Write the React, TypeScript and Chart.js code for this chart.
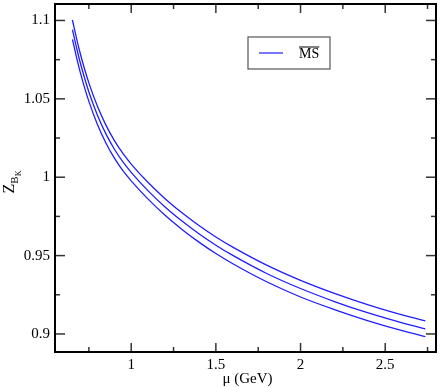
import React, { useEffect, useRef } from "react";
import { Chart, registerables } from "chart.js";

Chart.register(...registerables);

// ---- data ----
const muValues = [0.653, 0.68, 0.7, 0.725, 0.75, 0.8, 0.85, 0.9, 0.95, 1.0, 1.1, 1.2, 1.3, 1.4, 1.5, 1.6, 1.8, 2.0, 2.2, 2.4, 2.6, 2.737];
const zUpper = [1.1003, 1.0873, 1.0786, 1.0689, 1.0602, 1.0454, 1.0334, 1.0235, 1.0153, 1.0084, 0.9966, 0.9863, 0.9773, 0.9692, 0.9619, 0.9554, 0.9439, 0.9342, 0.9259, 0.9186, 0.9122, 0.9083];
const zMiddle = [1.0942, 1.0813, 1.0727, 1.0631, 1.0544, 1.0397, 1.0278, 1.018, 1.0099, 1.0031, 0.9913, 0.981, 0.972, 0.9639, 0.9566, 0.9501, 0.9386, 0.929, 0.9207, 0.9134, 0.9071, 0.9032];
const zLower = [1.088, 1.0752, 1.0666, 1.057, 1.0484, 1.0338, 1.022, 1.0123, 1.0043, 0.9977, 0.986, 0.9757, 0.9667, 0.9586, 0.9513, 0.9448, 0.9333, 0.9236, 0.9156, 0.9084, 0.9021, 0.8983];

const xMajorTicks = [1, 1.5, 2, 2.5];
const xMinorTicks = [0.75, 1.25, 1.75, 2.25, 2.75];
const yMajorTicks = [0.9, 0.95, 1, 1.05, 1.1];
const yMinorTicks = [0.925, 0.975, 1.025, 1.075];
const legendLabel = "MS";
const xTitle = "μ (GeV)";

const SERIF = "'Liberation Serif', 'Times New Roman', serif";
const LINE_COLOR = "rgb(30,30,255)";

Chart.defaults.font.family = SERIF;
Chart.defaults.font.size = 15;
Chart.defaults.color = "#000";

const decorPlugin = {
  id: "decor",
  afterDraw(chart: any) {
    const { ctx, chartArea: a, scales } = chart;
    const xs = scales.x;
    const ys = scales.y;
    ctx.save();
    const seg = (x1: number, y1: number, x2: number, y2: number) => {
      ctx.beginPath();
      ctx.moveTo(x1, y1);
      ctx.lineTo(x2, y2);
      ctx.stroke();
    };
    ctx.strokeStyle = "#333";
    ctx.lineWidth = 1.5;
    const xt = (vals: number[], len: number) => {
      for (const v of vals) {
        const p = xs.getPixelForValue(v);
        seg(p, a.bottom, p, a.bottom - len);
        seg(p, a.top, p, a.top + len);
      }
    };
    const yt = (vals: number[], len: number) => {
      for (const v of vals) {
        const p = ys.getPixelForValue(v);
        seg(a.left, p, a.left + len, p);
        seg(a.right, p, a.right - len, p);
      }
    };
    xt(xMajorTicks, 9);
    xt(xMinorTicks, 5);
    yt(yMajorTicks, 10);
    yt(yMinorTicks, 5);

    // frame
    ctx.strokeStyle = "#000";
    ctx.lineWidth = 2;
    ctx.strokeRect(a.left, a.top, a.right - a.left, a.bottom - a.top);

    // legend
    const lx = a.left + 193;
    const ly = a.top + 33;
    ctx.strokeStyle = "#555";
    ctx.lineWidth = 1.2;
    ctx.strokeRect(lx, ly, 82, 32);
    ctx.strokeStyle = LINE_COLOR;
    ctx.lineWidth = 1.2;
    seg(lx + 11, ly + 16, lx + 35, ly + 16);
    ctx.fillStyle = "#000";
    ctx.font = `14px ${SERIF}`;
    ctx.textBaseline = "alphabetic";
    ctx.textAlign = "left";
    const tx = lx + 51;
    const tb = ly + 21;
    ctx.fillText(legendLabel, tx, tb);
    const tw = ctx.measureText(legendLabel).width;
    ctx.strokeStyle = "#000";
    ctx.lineWidth = 1;
    seg(tx, tb - 11, tx + tw, tb - 11);

    // x title
    ctx.font = `15px ${SERIF}`;
    ctx.textAlign = "center";
    ctx.textBaseline = "middle";
    ctx.fillText(xTitle, (a.left + a.right) / 2 + 2, 379);

    // y title Z_{B_K}
    ctx.translate(14, 182);
    ctx.rotate(-Math.PI / 2);
    ctx.textAlign = "left";
    ctx.textBaseline = "alphabetic";
    ctx.font = `16px ${SERIF}`;
    const zw = ctx.measureText("Z").width;
    ctx.font = `11px ${SERIF}`;
    const bw = ctx.measureText("B").width;
    ctx.font = `8px ${SERIF}`;
    const kw = ctx.measureText("K").width;
    const total = zw + bw + kw;
    let cx = -total / 2;
    ctx.font = `16px ${SERIF}`;
    ctx.fillText("Z", cx, 0);
    cx += zw;
    ctx.font = `11px ${SERIF}`;
    ctx.fillText("B", cx, 4);
    cx += bw;
    ctx.font = `8px ${SERIF}`;
    ctx.fillText("K", cx, 7);
    ctx.restore();
  },
};

const makeSeries = (vals: number[]) => muValues.map((m, i) => ({ x: m, y: vals[i] }));

export default function App() {
  const ref = useRef<HTMLCanvasElement | null>(null);
  useEffect(() => {
    if (!ref.current) return;
    const ds = (vals: number[], label: string) => ({
      label,
      data: makeSeries(vals),
      borderColor: LINE_COLOR,
      borderWidth: 1.3,
      pointRadius: 0,
      fill: false,
      cubicInterpolationMode: "monotone" as const,
    });
    const chart = new Chart(ref.current, {
      type: "line",
      data: {
        datasets: [ds(zUpper, legendLabel), ds(zMiddle, legendLabel), ds(zLower, legendLabel)],
      },
      options: {
        responsive: false,
        animation: false,
        layout: { padding: { left: 0, right: 9, top: 4, bottom: 0 } },
        plugins: { legend: { display: false }, tooltip: { enabled: false } },
        scales: {
          x: {
            type: "linear",
            min: 0.55,
            max: 2.8,
            grid: { display: false, drawTicks: false },
            border: { display: false },
            afterBuildTicks: (s: any) => {
              s.ticks = xMajorTicks.map((v) => ({ value: v }));
            },
            afterFit: (s: any) => {
              s.height = 36;
              s.paddingLeft = 0;
              s.paddingRight = 0;
            },
            ticks: {
              padding: 4,
              color: "#000",
              maxRotation: 0,
              font: { family: SERIF, size: 15 },
              callback: (v: any) => String(v),
            },
          },
          y: {
            type: "linear",
            min: 0.8885,
            max: 1.1105,
            grid: { display: false, drawTicks: false },
            border: { display: false },
            afterBuildTicks: (s: any) => {
              s.ticks = yMajorTicks.map((v) => ({ value: v }));
            },
            afterFit: (s: any) => {
              s.width = 55;
              s.paddingTop = 0;
              s.paddingBottom = 0;
            },
            ticks: {
              padding: 5,
              color: "#000",
              font: { family: SERIF, size: 15 },
              callback: (v: any) => String(v),
            },
          },
        },
      },
      plugins: [decorPlugin],
    });
    return () => chart.destroy();
  }, []);
  return (
    <div style={{ position: "fixed", left: 0, top: 0, width: 445, height: 388, background: "#fff" }}>
      <canvas ref={ref} width={445} height={388} style={{ display: "block" }} />
    </div>
  );
}
